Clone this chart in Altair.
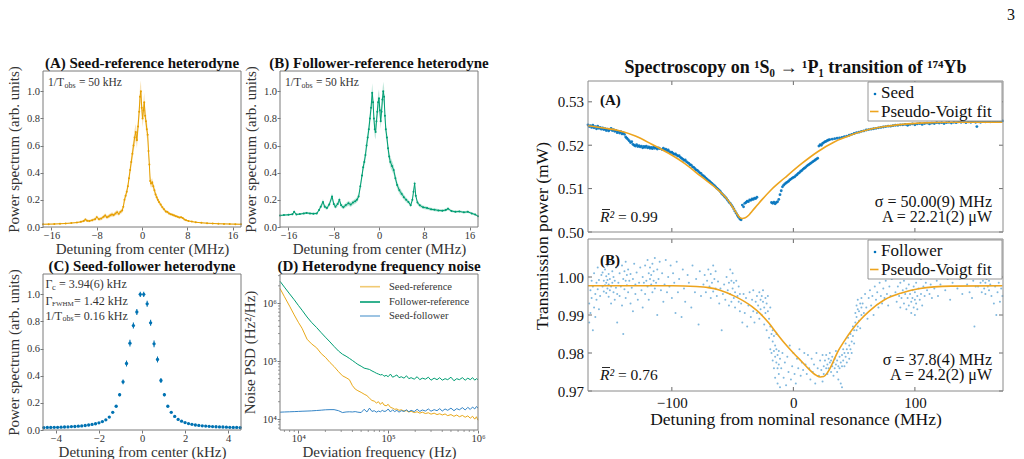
import altair as alt
import pandas as pd

FONT = "Liberation Serif"
ORANGE = "#E69F00"
GREEN = "#009E73"
BLUE = "#0072B2"
MBLUE = "#0072BD"
FIT = "#EDA41E"
DARK = "#333333"
FRAME = "#7a7a7a"

# ---------------- (A) Seed-reference heterodyne ----------------
seedref_x = [-17.5, -16.5, -15.5, -14.5, -13.5, -12.5, -11.5,
             -10.8, -10.3, -10.0, -9.7, -9.3, -8.8, -8.3, -8.0, -7.6, -7.2, -6.8, -6.5, -6.2, -5.9, -5.6, -5.3, -5.0, -4.7, -4.4, -4.1, -3.8, -3.5,
             -3.3, -3.1, -2.9, -2.7, -2.5, -2.3, -2.1, -1.9, -1.7, -1.5, -1.3, -1.1, -0.9, -0.7, -0.5, -0.35, -0.2, -0.05,
             0.1, 0.25, 0.4, 0.55, 0.7, 0.85, 1.0, 1.15, 1.3, 1.45,
             1.6, 1.8, 2.0, 2.2, 2.4, 2.6, 2.8, 3.0,
             3.3, 3.6, 3.9, 4.2, 4.5, 4.8, 5.1, 5.4, 5.7, 6.0, 6.3, 6.6, 6.9, 7.2, 7.5, 7.8,
             8.2, 8.8, 9.5, 10.5, 11.5, 12.5, 13.5, 14.5, 15.5, 16.5, 17.5]
seedref_y = [0.020, 0.021, 0.022, 0.024, 0.026, 0.029, 0.033,
             0.038, 0.045, 0.055, 0.046, 0.044, 0.050, 0.058, 0.072, 0.058, 0.062, 0.075, 0.085, 0.072, 0.078, 0.086, 0.092, 0.088, 0.100, 0.108, 0.098, 0.112, 0.122,
             0.150, 0.200, 0.230, 0.260, 0.300, 0.360, 0.420, 0.480, 0.540, 0.600, 0.660, 0.700, 0.640, 0.740, 0.850, 0.960, 1.000, 0.880,
             0.800, 0.860, 0.920, 0.820, 0.780, 0.720, 0.680, 0.560, 0.460, 0.340,
             0.320, 0.330, 0.300, 0.270, 0.240, 0.220, 0.200, 0.185,
             0.165, 0.145, 0.130, 0.115, 0.110, 0.100, 0.094, 0.090, 0.085, 0.080, 0.076, 0.070, 0.072, 0.066, 0.056, 0.050,
             0.045, 0.040, 0.035, 0.031, 0.028, 0.026, 0.024, 0.023, 0.022, 0.021, 0.020]
seedref_err = [0.004, 0.004, 0.004, 0.004, 0.004, 0.004, 0.004,
               0.008, 0.010, 0.012, 0.010, 0.009, 0.010, 0.012, 0.015, 0.012, 0.012, 0.014, 0.016, 0.013, 0.014, 0.015, 0.016, 0.014, 0.016, 0.017, 0.015, 0.016, 0.018,
               0.020, 0.025, 0.025, 0.028, 0.030, 0.035, 0.040, 0.045, 0.050, 0.055, 0.060, 0.060, 0.060, 0.065, 0.070, 0.075, 0.080, 0.070,
               0.065, 0.070, 0.070, 0.065, 0.060, 0.060, 0.055, 0.050, 0.040, 0.035,
               0.030, 0.030, 0.028, 0.025, 0.022, 0.020, 0.018, 0.016,
               0.015, 0.014, 0.013, 0.012, 0.012, 0.011, 0.010, 0.010, 0.010, 0.009, 0.009, 0.008, 0.009, 0.008, 0.007, 0.006,
               0.005, 0.005, 0.004, 0.004, 0.004, 0.004, 0.004, 0.004, 0.004, 0.004, 0.004]

# ---------------- (B) Follower-reference heterodyne ----------------
folref_x = [-17.5, -16.8, -16.0, -15.3, -15.0, -14.6, -14.0, -13.3, -12.8, -12.2, -11.6, -11.0,
            -10.6, -10.3, -9.9, -9.6, -9.2, -8.8, -8.3, -8.0, -7.7, -7.3, -7.0, -6.7, -6.3, -5.9, -5.4, -5.0, -4.6, -4.2, -3.9, -3.6,
            -3.3, -3.0, -2.8, -2.6, -2.4, -2.2, -2.0, -1.8, -1.6, -1.4, -1.2, -1.05, -0.9, -0.75, -0.6, -0.45, -0.3, -0.15,
            0.0, 0.15, 0.3, 0.45, 0.6, 0.75, 0.9, 1.05, 1.2, 1.4, 1.6, 1.8, 2.0,
            2.3, 2.6, 2.9, 3.2, 3.6, 4.0, 4.4, 4.8, 5.2, 5.6, 5.9, 6.1, 6.3, 6.5, 6.8, 7.2, 7.8,
            8.5, 9.2, 9.8, 10.5, 11.2, 11.8, 12.2, 12.8, 13.5, 14.2, 15.0, 15.7, 16.4, 17.0, 17.5]
folref_y = [0.085, 0.088, 0.090, 0.094, 0.112, 0.093, 0.095, 0.100, 0.104, 0.100, 0.098, 0.100,
            0.125, 0.150, 0.185, 0.150, 0.140, 0.165, 0.225, 0.170, 0.150, 0.170, 0.200, 0.160, 0.145, 0.160, 0.175, 0.165, 0.180, 0.190, 0.200, 0.225,
            0.300, 0.380, 0.440, 0.480, 0.530, 0.600, 0.660, 0.720, 0.800, 0.880, 0.990, 0.920, 0.800, 0.720, 0.700, 0.780, 0.850, 0.920,
            0.950, 0.860, 0.780, 0.850, 0.940, 1.000, 0.960, 0.820, 0.720, 0.660, 0.580, 0.520, 0.480,
            0.450, 0.420, 0.360, 0.310, 0.270, 0.245, 0.220, 0.200, 0.185, 0.160, 0.200, 0.260, 0.320, 0.230, 0.180, 0.160, 0.145,
            0.140, 0.130, 0.128, 0.122, 0.120, 0.125, 0.135, 0.118, 0.112, 0.115, 0.108, 0.112, 0.100, 0.092, 0.080]
folref_err = [0.006, 0.006, 0.006, 0.007, 0.012, 0.007, 0.007, 0.008, 0.008, 0.008, 0.008, 0.008,
              0.012, 0.016, 0.022, 0.016, 0.015, 0.018, 0.025, 0.018, 0.016, 0.018, 0.020, 0.016, 0.015, 0.016, 0.018, 0.017, 0.018, 0.018, 0.020, 0.022,
              0.028, 0.032, 0.035, 0.038, 0.040, 0.045, 0.048, 0.050, 0.055, 0.060, 0.070, 0.065, 0.060, 0.055, 0.055, 0.060, 0.062, 0.065,
              0.065, 0.060, 0.058, 0.060, 0.065, 0.070, 0.068, 0.060, 0.055, 0.050, 0.045, 0.042, 0.040,
              0.038, 0.035, 0.030, 0.028, 0.025, 0.022, 0.020, 0.018, 0.016, 0.015, 0.018, 0.022, 0.028, 0.020, 0.016, 0.014, 0.013,
              0.012, 0.011, 0.011, 0.010, 0.010, 0.011, 0.012, 0.010, 0.009, 0.009, 0.009, 0.009, 0.008, 0.008, 0.007]

# ---------------- (C) Seed-follower heterodyne ----------------
sf_x = [-4.56, -4.40, -4.24, -4.08, -3.92, -3.76, -3.60, -3.44, -3.28, -3.12, -2.96, -2.80, -2.64, -2.48, -2.32,
        -2.16, -2.00, -1.84, -1.68, -1.52, -1.36, -1.20, -1.04, -0.88, -0.72, -0.56, -0.40, -0.24, -0.08,
        0.08, 0.24, 0.40, 0.56, 0.72, 0.88, 1.04, 1.20, 1.36, 1.52, 1.68, 1.84, 2.00, 2.16, 2.32,
        2.48, 2.64, 2.80, 2.96, 3.12, 3.28, 3.44, 3.60, 3.76, 3.92, 4.08, 4.24, 4.40, 4.56]
sf_y = [0.018, 0.019, 0.019, 0.020, 0.020, 0.021, 0.022, 0.023, 0.025, 0.026, 0.028, 0.030, 0.033, 0.037, 0.041,
        0.046, 0.053, 0.062, 0.075, 0.095, 0.130, 0.175, 0.260, 0.355, 0.490, 0.640, 0.770, 0.870, 1.000,
        1.000, 0.930, 0.790, 0.635, 0.520, 0.365, 0.260, 0.175, 0.130, 0.100, 0.078, 0.065, 0.055, 0.047, 0.042,
        0.037, 0.034, 0.031, 0.029, 0.027, 0.025, 0.024, 0.023, 0.022, 0.021, 0.020, 0.019, 0.019, 0.018]
sf_err = [0.003, 0.003, 0.003, 0.003, 0.003, 0.003, 0.003, 0.003, 0.003, 0.003, 0.003, 0.003, 0.003, 0.003, 0.003,
          0.003, 0.003, 0.003, 0.003, 0.003, 0.005, 0.008, 0.012, 0.018, 0.022, 0.025, 0.022, 0.022, 0.020,
          0.020, 0.022, 0.022, 0.025, 0.022, 0.018, 0.012, 0.008, 0.005, 0.003, 0.003, 0.003, 0.003, 0.003, 0.003,
          0.003, 0.003, 0.003, 0.003, 0.003, 0.003, 0.003, 0.003, 0.003, 0.003, 0.003, 0.003, 0.003, 0.003]

# ---------------- (D) Heterodyne frequency noise ----------------
noise_f = [6250, 7000, 8000, 9000, 10000, 11000, 12500, 14000, 16000, 18000,
           20000, 22500, 25000, 28000, 31000, 34000, 37000, 40000, 43000, 46000,
           50000, 54000, 58000, 62000, 66000, 70000, 74000, 78000, 82000, 86000,
           90000, 95000, 100000, 106000, 112000, 118000, 125000, 132000, 140000, 150000,
           160000, 170000, 180000, 195000, 210000, 225000, 240000, 260000, 280000, 300000,
           325000, 350000, 375000, 400000, 430000, 460000, 500000, 540000, 580000, 620000,
           670000, 720000, 770000, 820000, 870000, 920000, 960000, 1000000]
noise_seedref = [1.8e6, 1.3e6, 8.9e5, 6.3e5, 4.7e5, 3.7e5, 2.4e5, 2.0e5, 1.7e5, 1.35e5,
                 1.17e5, 9.5e4, 8.1e4, 6.6e4, 5.6e4, 5.2e4, 4.8e4, 3.8e4, 3.3e4, 3.1e4,
                 2.9e4, 2.7e4, 2.55e4, 2.3e4, 2.1e4, 2.05e4, 1.9e4, 2.0e4, 1.8e4, 1.95e4,
                 1.75e4, 1.7e4, 1.8e4, 1.6e4, 1.55e4, 1.48e4, 1.5e4, 1.42e4, 1.45e4, 1.38e4,
                 1.4e4, 1.33e4, 1.37e4, 1.3e4, 1.34e4, 1.27e4, 1.32e4, 1.25e4, 1.29e4, 1.22e4,
                 1.27e4, 1.2e4, 1.24e4, 1.18e4, 1.23e4, 1.15e4, 1.2e4, 1.12e4, 1.18e4, 1.1e4,
                 1.16e4, 1.08e4, 1.14e4, 1.04e4, 1.12e4, 1.0e4, 1.1e4, 9.6e3]
noise_folref = [2.4e6, 1.9e6, 1.45e6, 1.15e6, 9.2e5, 7.6e5, 5.8e5, 4.7e5, 3.8e5, 3.1e5,
                2.6e5, 2.15e5, 1.8e5, 1.5e5, 1.32e5, 1.22e5, 1.12e5, 1.03e5, 9.5e4, 8.8e4,
                8.2e4, 7.6e4, 7.4e4, 7.2e4, 6.8e4, 6.5e4, 6.2e4, 6.0e4, 5.8e4, 5.9e4,
                5.5e4, 5.7e4, 5.4e4, 6.0e4, 5.3e4, 5.5e4, 5.8e4, 5.2e4, 5.4e4, 5.1e4,
                5.6e4, 5.0e4, 5.2e4, 4.9e4, 5.4e4, 4.8e4, 5.1e4, 4.9e4, 5.3e4, 4.7e4,
                5.1e4, 4.8e4, 5.2e4, 4.7e4, 5.0e4, 4.8e4, 5.3e4, 4.6e4, 5.0e4, 4.8e4,
                5.2e4, 4.7e4, 5.1e4, 4.8e4, 5.2e4, 4.7e4, 5.0e4, 4.8e4]
noise_seedfol = [1.32e4, 1.33e4, 1.34e4, 1.35e4, 1.36e4, 1.37e4, 1.38e4, 1.39e4, 1.41e4, 1.43e4,
                 1.45e4, 1.46e4, 1.46e4, 1.4e4, 1.3e4, 1.33e4, 1.34e4, 1.33e4, 1.35e4, 1.32e4,
                 1.3e4, 1.48e4, 1.33e4, 1.55e4, 1.36e4, 1.4e4, 1.32e4, 1.38e4, 1.34e4, 1.42e4,
                 1.36e4, 1.38e4, 1.5e4, 1.33e4, 1.45e4, 1.35e4, 1.42e4, 1.32e4, 1.4e4, 1.36e4,
                 1.45e4, 1.34e4, 1.42e4, 1.35e4, 1.48e4, 1.36e4, 1.44e4, 1.38e4, 1.5e4, 1.37e4,
                 1.46e4, 1.4e4, 1.52e4, 1.38e4, 1.5e4, 1.42e4, 1.55e4, 1.4e4, 1.52e4, 1.45e4,
                 1.58e4, 1.44e4, 1.6e4, 1.47e4, 1.62e4, 1.5e4, 1.65e4, 1.55e4]
noise_minor_x = [7000, 8000, 9000, 20000, 30000, 40000, 50000, 60000, 70000, 80000, 90000,
                 200000, 300000, 400000, 500000, 600000, 700000, 800000, 900000]
noise_minor_y = [7000, 8000, 9000, 20000, 30000, 40000, 50000, 60000, 70000, 80000, 90000,
                 200000, 300000, 400000, 500000, 600000, 700000, 800000, 900000, 2000000, 3000000]

# ---------------- Spectroscopy (A) Seed ----------------
seed_points = [(-169, 0.5247), (-168, 0.5243), (-167, 0.5245), (-166, 0.5241), (-165, 0.5246), (-164, 0.5240),
    (-163, 0.5243), (-162, 0.5238), (-161, 0.5244), (-160, 0.5239), (-159, 0.5241), (-158, 0.5237), (-157, 0.5240),
    (-156, 0.5236), (-155, 0.5238), (-154, 0.5234), (-153, 0.5237), (-152, 0.5233), (-151, 0.5236), (-150, 0.5239),
    (-149, 0.5234), (-148, 0.5236), (-147, 0.5232), (-146, 0.5234), (-145, 0.5229), (-144, 0.5232), (-143, 0.5228),
    (-142, 0.5231), (-141, 0.5226), (-140, 0.5229), (-139, 0.5225), (-138, 0.5219), (-137, 0.5216), (-136, 0.5213),
    (-135, 0.5210), (-134, 0.5206), (-133, 0.5208), (-132, 0.5202), (-131, 0.5200), (-130, 0.5198), (-129, 0.5201),
    (-128, 0.5197), (-127, 0.5199), (-126, 0.5196), (-125, 0.5198), (-124, 0.5194), (-123, 0.5197), (-122, 0.5195),
    (-121, 0.5198), (-120, 0.5194), (-119, 0.5196), (-118, 0.5193), (-117, 0.5195), (-116, 0.5192), (-115, 0.5196),
    (-114, 0.5193), (-113, 0.5195), (-112, 0.5191), (-111, 0.5194), (-110, 0.5192), (-108, 0.5190), (-107, 0.5193),
    (-106, 0.5189), (-105, 0.5191), (-104, 0.5187), (-103, 0.5189), (-102, 0.5185), (-101, 0.5183), (-100, 0.5184),
    (-99, 0.5181), (-98, 0.5179), (-97, 0.5180), (-96, 0.5177), (-95, 0.5175), (-94, 0.5176), (-93, 0.5172),
    (-92, 0.5170), (-91, 0.5168), (-90, 0.5165), (-89, 0.5166), (-88, 0.5162), (-87, 0.5160), (-86, 0.5158),
    (-85, 0.5155), (-84, 0.5154), (-83, 0.5150), (-82, 0.5149), (-81, 0.5146), (-80, 0.5143), (-79, 0.5142),
    (-78, 0.5139), (-77, 0.5136), (-76, 0.5135), (-75, 0.5131), (-74, 0.5129), (-73, 0.5127), (-72, 0.5124),
    (-71, 0.5122), (-70, 0.5119), (-69, 0.5117), (-68, 0.5114), (-67, 0.5112), (-66, 0.5109), (-65, 0.5107),
    (-64, 0.5104), (-63, 0.5101), (-62, 0.5099), (-61, 0.5096), (-60, 0.5093), (-59, 0.5089), (-58, 0.5086),
    (-57, 0.5083), (-56, 0.5080), (-55, 0.5077), (-54, 0.5073), (-53, 0.5069), (-52, 0.5066), (-51, 0.5062),
    (-50, 0.5058), (-49, 0.5053), (-48, 0.5048), (-47, 0.5043), (-46, 0.5038), (-45, 0.5034), (-44, 0.5030),
    (-43, 0.5028), (-42, 0.5062), (-41, 0.5058), (-40, 0.5066), (-39, 0.5068), (-38, 0.5071), (-37, 0.5070),
    (-36, 0.5074), (-35, 0.5073), (-34, 0.5076), (-33, 0.5075), (-32, 0.5078), (-31, 0.5077), (-30, 0.5080),
    (-18, 0.5068), (-17, 0.5066), (-16, 0.5069), (-15, 0.5065), (-14, 0.5068), (-13, 0.5070), (-12, 0.5075),
    (-11, 0.5086), (-10, 0.5095), (-9, 0.5104), (-8, 0.5108), (-7, 0.5111), (-6, 0.5113), (-5, 0.5115),
    (-4, 0.5117), (-3, 0.5120), (-2, 0.5122), (-1, 0.5124), (0, 0.5126), (1, 0.5127), (2, 0.5130), (3, 0.5132),
    (4, 0.5135), (5, 0.5137), (6, 0.5140), (7, 0.5142), (8, 0.5145), (9, 0.5147), (10, 0.5149), (11, 0.5152),
    (12, 0.5154), (13, 0.5156), (14, 0.5158), (15, 0.5160), (16, 0.5162), (17, 0.5164), (18, 0.5166),
    (19, 0.5168), (20, 0.5170), (21, 0.5198), (22, 0.5201), (23, 0.5200), (24, 0.5204), (25, 0.5206),
    (26, 0.5208), (27, 0.5209), (28, 0.5211), (29, 0.5212), (30, 0.5213), (32, 0.5214), (34, 0.5215),
    (36, 0.5216), (38, 0.5217), (40, 0.5218), (42, 0.5220), (44, 0.5221), (46, 0.5223), (48, 0.5225),
    (50, 0.5227), (52, 0.5229), (54, 0.5230), (56, 0.5232), (58, 0.5233), (60, 0.5235), (62, 0.5236),
    (64, 0.5237), (66, 0.5238), (68, 0.5239), (70, 0.5240), (72, 0.5241), (74, 0.5242), (76, 0.5243),
    (78, 0.5244), (80, 0.5244), (82, 0.5245), (84, 0.5246), (86, 0.5246), (88, 0.5247), (90, 0.5247),
    (92, 0.5248), (94, 0.5246), (96, 0.5248), (98, 0.5249), (100, 0.5247), (102, 0.5249), (104, 0.5250),
    (106, 0.5248), (108, 0.5250), (110, 0.5251), (112, 0.5249), (114, 0.5251), (116, 0.5250), (118, 0.5252),
    (120, 0.5251), (122, 0.5252), (124, 0.5250), (126, 0.5252), (128, 0.5253), (130, 0.5251), (132, 0.5253),
    (134, 0.5252), (136, 0.5254), (138, 0.5253), (140, 0.5254), (142, 0.5252), (144, 0.5254), (146, 0.5253),
    (148, 0.5255), (150, 0.5253), (151, 0.5243), (152, 0.5254), (154, 0.5253), (156, 0.5255), (158, 0.5254),
    (160, 0.5255), (162, 0.5254), (164, 0.5256), (166, 0.5255), (168, 0.5256), (170, 0.5255), (172, 0.5256)]
seed_fit = [(-169, 0.5245), (-155, 0.5239), (-144, 0.5234), (-130, 0.5221), (-117, 0.5203), (-103, 0.5182),
    (-89, 0.5157), (-76, 0.5128), (-62, 0.5097), (-54, 0.5074), (-49, 0.5053), (-46, 0.5040), (-44, 0.5033),
    (-42, 0.5031), (-40, 0.5032), (-37, 0.5038), (-34, 0.5048), (-30, 0.5061), (-26, 0.5074), (-18, 0.5098),
    (-7, 0.5125), (7, 0.5158), (20, 0.5185), (34, 0.5208), (48, 0.5224), (62, 0.5236), (75, 0.5243),
    (90, 0.5248), (103, 0.5251), (130, 0.5253), (172, 0.5253)]

# ---------------- Spectroscopy (B) Follower ----------------
follower_points = [
    (-168, 0.9930), (-168, 0.9880), (-167, 0.9965), (-167, 0.9905), (-166, 0.9990), (-166, 0.9945), (-165, 0.9860),
    (-165, 0.9975), (-164, 0.9920), (-164, 1.0010), (-163, 0.9955), (-163, 0.9895), (-162, 0.9985), (-162, 0.9940),
    (-161, 1.0025), (-161, 0.9968), (-160, 0.9915), (-160, 0.9992), (-159, 0.9950), (-158, 1.0005),
    (-157, 0.9975), (-157, 1.0012), (-156, 0.9962), (-156, 0.9990), (-155, 1.0020), (-155, 0.9978), (-154, 0.9958),
    (-154, 1.0002), (-154, 0.9985), (-153, 0.9970), (-153, 1.0030), (-153, 0.9992), (-152, 0.9948), (-152, 0.9980),
    (-152, 1.0008), (-151, 0.9965), (-151, 0.9995), (-151, 1.0040), (-150, 0.9975), (-150, 0.9930), (-149, 1.0015),
    (-149, 0.9985), (-148, 0.9960), (-148, 1.0000), (-147, 0.9940), (-147, 0.9990), (-146, 1.0025), (-146, 0.9972),
    (-145, 0.9955), (-145, 0.9880),
    (-144, 0.9985), (-143, 1.0010), (-143, 0.9950), (-142, 0.9975), (-141, 1.0030), (-141, 0.9925), (-140, 0.9995),
    (-140, 0.9850), (-139, 1.0015), (-139, 0.9968), (-138, 0.9990), (-138, 1.0040), (-138, 0.9945), (-137, 1.0005),
    (-137, 0.9978), (-136, 0.9960), (-136, 1.0020), (-135, 0.9990), (-134, 0.9930), (-134, 1.0008), (-133, 0.9972),
    (-132, 0.9995), (-132, 0.9910), (-131, 1.0035), (-130, 0.9980), (-130, 0.9955), (-129, 1.0012), (-128, 0.9940),
    (-127, 0.9985), (-126, 1.0025),
    (-125, 0.9965), (-124, 1.0000), (-124, 0.9920), (-123, 0.9985), (-122, 1.0030), (-122, 0.9955), (-121, 0.9990),
    (-120, 1.0045), (-120, 0.9975), (-119, 1.0010), (-119, 0.9940), (-118, 0.9995), (-118, 1.0025), (-117, 0.9980),
    (-117, 1.0005), (-116, 0.9960), (-116, 1.0035), (-115, 0.9990), (-115, 1.0015), (-114, 0.9970), (-114, 1.0050),
    (-113, 0.9985), (-112, 1.0020), (-112, 0.9900), (-111, 0.9995), (-110, 1.0040), (-109, 0.9965), (-108, 1.0010),
    (-107, 0.9935), (-106, 0.9980), (-105, 1.0045), (-104, 0.9960), (-103, 1.0000), (-102, 0.9975), (-101, 1.0030),
    (-100, 0.9945), (-99, 1.0010), (-98, 0.9985), (-97, 0.9905), (-96, 1.0040), (-95, 0.9960), (-94, 0.9995),
    (-92, 0.9895), (-91, 1.0020), (-90, 0.9970), (-89, 0.9935), (-87, 1.0005), (-86, 0.9985), (-84, 0.9920),
    (-83, 1.0030), (-81, 0.9960), (-80, 0.9995), (-78, 0.9875), (-77, 1.0015), (-76, 0.9950),
    (-74, 0.9980), (-73, 1.0005), (-72, 0.9960), (-71, 0.9990), (-70, 1.0020), (-69, 0.9975), (-68, 0.9945),
    (-68, 1.0008), (-67, 0.9985), (-66, 1.0030), (-66, 0.9962), (-65, 0.9995), (-64, 0.9970), (-64, 1.0015),
    (-63, 0.9950), (-62, 0.9988), (-61, 0.9930), (-60, 0.9970), (-59, 0.9860), (-58, 0.9955),
    (-57, 0.9980), (-56, 0.9940), (-55, 1.0000), (-54, 0.9965), (-53, 0.9925), (-53, 0.9985), (-52, 1.0020),
    (-52, 0.9955), (-51, 0.9990), (-51, 0.9935), (-50, 0.9970), (-50, 1.0010), (-49, 0.9945), (-49, 0.9985),
    (-48, 0.9960), (-48, 0.9920), (-47, 0.9990), (-46, 0.9950), (-45, 0.9935), (-45, 0.9975), (-44, 0.9910),
    (-44, 0.9955),
    (-43, 0.9930), (-42, 0.9880), (-41, 0.9955), (-40, 0.9905), (-39, 0.9945), (-38, 0.9870), (-37, 0.9925),
    (-36, 0.9960), (-35, 0.9895), (-34, 0.9940), (-33, 0.9910), (-33, 0.9965), (-32, 0.9880), (-31, 0.9935),
    (-30, 0.9905), (-30, 0.9950), (-29, 0.9925), (-28, 0.9890), (-28, 0.9960), (-27, 0.9940),
    (-27, 0.9915), (-26, 0.9950), (-26, 0.9900), (-25, 0.9935), (-25, 0.9965), (-24, 0.9920), (-24, 0.9875),
    (-23, 0.9945), (-23, 0.9905), (-22, 0.9930), (-22, 0.9860), (-21, 0.9910), (-21, 0.9950), (-20, 0.9890),
    (-20, 0.9840), (-19, 0.9920), (-19, 0.9870), (-19, 0.9810), (-18, 0.9850), (-18, 0.9800),
    (-17, 0.9830), (-17, 0.9780), (-17, 0.9860), (-16, 0.9805), (-16, 0.9760), (-16, 0.9845), (-15, 0.9790),
    (-15, 0.9820), (-15, 0.9735), (-14, 0.9775), (-14, 0.9810), (-14, 0.9850), (-13, 0.9760), (-13, 0.9795),
    (-13, 0.9720), (-12, 0.9770), (-12, 0.9805), (-12, 0.9745), (-11, 0.9785), (-11, 0.9710),
    (-10, 0.9760), (-9, 0.9800), (-8, 0.9735), (-7, 0.9775), (-6, 0.9715), (-5, 0.9790), (-4, 0.9750),
    (-3, 0.9820), (-2, 0.9730), (-1, 0.9765), (0, 0.9800), (1, 0.9745), (2, 0.9720), (3, 0.9785), (4, 0.9760),
    (5, 0.9810), (6, 0.9740), (7, 0.9775), (8, 0.9755), (9, 0.9800),
    (10, 0.9770), (11, 0.9745), (12, 0.9795), (13, 0.9760), (14, 0.9730), (15, 0.9785), (16, 0.9750),
    (17, 0.9770), (18, 0.9720), (19, 0.9800), (20, 0.9760), (21, 0.9740), (22, 0.9780), (23, 0.9755),
    (24, 0.9725), (24, 0.9795), (25, 0.9765), (25, 0.9745),
    (26, 0.9780), (27, 0.9760), (27, 0.9795), (28, 0.9770), (28, 0.9745), (29, 0.9785), (29, 0.9760),
    (30, 0.9775), (30, 0.9800), (31, 0.9750), (31, 0.9780), (32, 0.9765), (32, 0.9790), (33, 0.9775),
    (33, 0.9740), (34, 0.9785), (34, 0.9760), (35, 0.9770), (35, 0.9805), (36, 0.9750), (36, 0.9780),
    (37, 0.9765), (37, 0.9730), (38, 0.9790), (38, 0.9760), (39, 0.9775), (39, 0.9720), (40, 0.9795),
    (40, 0.9765), (40, 0.9710),
    (41, 0.9780), (41, 0.9810), (42, 0.9765), (42, 0.9800), (43, 0.9790), (43, 0.9825), (44, 0.9775),
    (44, 0.9810), (45, 0.9800), (45, 0.9840), (46, 0.9785), (46, 0.9820), (47, 0.9810), (47, 0.9850),
    (48, 0.9830), (48, 0.9800), (49, 0.9845), (49, 0.9870), (50, 0.9825), (50, 0.9860),
    (51, 0.9880), (51, 0.9905), (52, 0.9860), (52, 0.9925), (52, 0.9895), (53, 0.9870), (53, 0.9915),
    (53, 0.9940), (54, 0.9885), (54, 0.9910), (55, 0.9930), (55, 0.9865), (56, 0.9900), (56, 0.9945), (56, 0.9920),
    (57, 0.9930), (58, 0.9905), (59, 0.9955), (60, 0.9920), (61, 0.9890), (62, 0.9945), (63, 0.9965),
    (64, 0.9925), (65, 0.9950), (66, 0.9900), (67, 0.9975), (68, 0.9940), (69, 0.9960), (70, 0.9920),
    (71, 0.9985), (72, 0.9950), (73, 0.9930), (74, 0.9970), (75, 0.9945), (76, 0.9990), (77, 0.9955),
    (78, 0.9925), (79, 0.9975), (80, 0.9950), (81, 0.9995),
    (84, 0.9960), (85, 0.9935), (86, 0.9975), (87, 0.9950), (88, 0.9920), (88, 0.9985), (89, 0.9945),
    (90, 0.9965), (91, 0.9930), (91, 0.9990), (92, 0.9955), (93, 0.9915), (93, 0.9970), (94, 0.9945),
    (95, 0.9925), (95, 0.9980), (96, 0.9955), (97, 0.9935), (97, 0.9905), (98, 0.9965), (98, 0.9945),
    (99, 0.9920), (99, 0.9975), (100, 0.9940), (100, 0.9960), (100, 0.9900), (101, 0.9930), (101, 0.9985),
    (102, 0.9950), (102, 0.9915), (103, 0.9970), (104, 0.9940), (105, 0.9995), (105, 0.9955), (106, 0.9925),
    (107, 0.9975), (108, 0.9950), (109, 0.9985), (110, 0.9965), (111, 1.0000),
    (112, 0.9955), (113, 0.9980), (114, 0.9945), (115, 1.0005), (116, 0.9970), (118, 0.9990), (119, 0.9950),
    (121, 0.9980), (123, 1.0010), (125, 0.9965), (127, 0.9995), (129, 0.9940), (131, 0.9985), (133, 1.0015),
    (135, 0.9970), (137, 0.9995), (139, 0.9955), (141, 1.0020), (143, 0.9980), (145, 0.9960), (146, 1.0005),
    (147, 0.9945), (148, 0.9990), (149, 0.9870), (150, 0.9975),
    (151, 1.0000), (152, 0.9975), (153, 1.0025), (154, 0.9985), (155, 0.9960), (155, 1.0010), (156, 0.9990),
    (156, 1.0035), (157, 0.9970), (157, 1.0005), (158, 0.9985), (158, 0.9955), (159, 1.0020), (159, 0.9995),
    (160, 0.9975), (160, 1.0040), (161, 0.9990), (161, 0.9965), (162, 1.0010), (162, 0.9980), (163, 0.9950),
    (164, 1.0000), (165, 0.9930), (166, 0.9975), (167, 0.9900), (168, 0.9960), (169, 0.9985), (170, 0.9935),
    (171, 0.9970), (172, 0.9950)]
follower_fit = [(-169, 0.9977), (-100, 0.9977), (-80, 0.9975), (-70, 0.9972), (-61, 0.9966), (-48, 0.9949),
    (-34, 0.9922), (-27, 0.9903), (-20, 0.9878), (-14, 0.9853), (-7, 0.9825), (0, 0.9800), (7, 0.9777),
    (12, 0.9760), (16, 0.9748), (19, 0.9741), (22, 0.9737), (25, 0.9738), (28, 0.9748), (31, 0.9765),
    (34, 0.9786), (37, 0.9806), (42, 0.9832), (48, 0.9860), (55, 0.9887), (62, 0.9909), (75, 0.9940),
    (89, 0.9958), (103, 0.9969), (130, 0.9976), (172, 0.9977)]

spec_xticks = [-100, 0, 100]
specA_yticks = [0.50, 0.51, 0.52, 0.53]
specB_yticks = [0.97, 0.98, 0.99, 1.00]

# ======================================================================
# One canvas; each panel gets its own pixel box through the scale ranges.
W, H = 975, 388
one = pd.DataFrame({"k": [0]})


def txt(s, x, y, size=11.5, align="left", weight="normal", style="normal", color=DARK, angle=0, baseline="middle"):
    return alt.Chart(one).mark_text(text=s, font=FONT, fontSize=size, align=align, baseline=baseline,
                                    fontWeight=weight, fontStyle=style, color=color, angle=angle
                                    ).encode(x=alt.value(x), y=alt.value(y))


def hbar(x1, x2, y, color="#111", width=1.0):
    return alt.Chart(one).mark_rule(color=color, strokeWidth=width).encode(
        x=alt.value(x1), x2=alt.value(x2), y=alt.value(y))


def frame(x0, y0, w, h, color=FRAME):
    return alt.Chart(one).mark_rect(fillOpacity=0, stroke=color, strokeWidth=1).encode(
        x=alt.value(x0), x2=alt.value(x0 + w), y=alt.value(y0), y2=alt.value(y0 + h))


def laxis(title, values, orient, offset, fmt=None, expr=None, title_pad=2):
    kw = dict(title=title, values=values, orient=orient, offset=offset, labelFont=FONT, labelFontSize=10.5,
              labelColor=DARK, tickColor="#555", tickSize=3, tickWidth=0.8, domain=False, grid=False,
              titleFont=FONT, titleFontSize=15, titleFontWeight="normal", titleColor=DARK,
              labelPadding=0.5, titlePadding=title_pad, labelFlush=False, labelOverlap=False)
    if fmt:
        kw["format"] = fmt
    if expr:
        kw["labelExpr"] = expr
    return alt.Axis(**kw)


def raxis(values, orient, offset, fmt=None, title=None):
    kw = dict(values=values, orient=orient, offset=offset, labelFont=FONT, labelFontSize=15, labelColor="#111",
              ticks=False, tickSize=0, domain=False, grid=False, labelPadding=4.5, labelFlush=False,
              labelOverlap=False, titleFont=FONT, titleFontSize=17.5, titleFontWeight="normal",
              titleColor="#111", titlePadding=0)
    kw["title"] = title
    if fmt:
        kw["format"] = fmt
    return alt.Axis(**kw)


LW, LH = 198, 156
XPAD = 0
YPAD = 5


def ptitle(s, x0, y0):
    return txt(s, x0 + LW / 2, y0 - 8.5, 15, align="center", weight="bold", color="#111")


def spectrum_panel(xs, ys, errs, color, band_color, title, x0, y0):
    df = pd.DataFrame({"x": xs, "y": ys,
                       "lo": [a - b for a, b in zip(ys, errs)],
                       "hi": [a + b for a, b in zip(ys, errs)]})
    xsc = alt.Scale(domain=[-17.5, 17.5], range=[x0, x0 + LW], nice=False, zero=False)
    ysc = alt.Scale(domain=[0, 1.15], range=[y0 + LH, y0], nice=False, zero=False)
    xa = laxis("Detuning from center (MHz)", [-16, -8, 0, 8, 16], "bottom", y0 + LH - H, title_pad=XPAD)
    ya = laxis("Power spectrum (arb. units)", [0, 0.2, 0.4, 0.6, 0.8, 1.0], "left", -x0, fmt=".1f", title_pad=YPAD)
    X = alt.X("x:Q", scale=xsc, axis=xa)
    band = alt.Chart(df).mark_area(color=band_color, opacity=0.6).encode(
        x=X, y=alt.Y("lo:Q", scale=ysc, axis=ya), y2="hi:Q")
    line = alt.Chart(df).mark_line(color=color, strokeWidth=1.0).encode(
        x=X, y=alt.Y("y:Q", scale=ysc, axis=ya))
    dots = alt.Chart(df).mark_circle(color=color, size=4, opacity=1).encode(
        x=X, y=alt.Y("y:Q", scale=ysc, axis=ya))
    notes = [txt("1/T", x0 + 5, y0 + 11.5, 11.5), txt("obs", x0 + 21.5, y0 + 14.5, 8),
             txt("= 50 kHz", x0 + 36, y0 + 11.5, 11.5)]
    return alt.layer(band, line, dots, frame(x0, y0, LW, LH), ptitle(title, x0, y0), *notes)


pA = spectrum_panel(seedref_x, seedref_y, seedref_err, ORANGE, "#F3CF86", "(A) Seed-reference heterodyne", 0, 0)
pB = spectrum_panel(folref_x, folref_y, folref_err, GREEN, "#93D6BF", "(B) Follower-reference heterodyne", 237, 0)

# ---- C ----
cx0, cy0 = 0, 203
dfC = pd.DataFrame({"x": sf_x, "y": sf_y,
                    "lo": [a - b for a, b in zip(sf_y, sf_err)],
                    "hi": [a + b for a, b in zip(sf_y, sf_err)]})
xscC = alt.Scale(domain=[-4.6, 4.6], range=[cx0, cx0 + LW], nice=False, zero=False)
yscC = alt.Scale(domain=[0, 1.15], range=[cy0 + LH, cy0], nice=False, zero=False)
xaC = laxis("Detuning from center (kHz)", [-4, -2, 0, 2, 4], "bottom", cy0 + LH - H, title_pad=XPAD)
yaC = laxis("Power spectrum (arb. units)", [0, 0.2, 0.4, 0.6, 0.8, 1.0], "left", -cx0, fmt=".1f", title_pad=YPAD)
XC = alt.X("x:Q", scale=xscC, axis=xaC)
errC = alt.Chart(dfC).mark_rule(color=BLUE, strokeWidth=1.1).encode(x=XC, y=alt.Y("lo:Q", scale=yscC, axis=yaC), y2="hi:Q")
ptsC = alt.Chart(dfC).mark_circle(color=BLUE, size=11, opacity=1).encode(x=XC, y=alt.Y("y:Q", scale=yscC, axis=yaC))
notesC = [txt("Γ", cx0 + 2.5, cy0 + 10, 12), txt("c", cx0 + 9, cy0 + 13, 8.5), txt("= 3.94(6) kHz", cx0 + 16, cy0 + 10, 12),
          txt("Γ", cx0 + 2.5, cy0 + 26.5, 12), txt("FWHM", cx0 + 9, cy0 + 29.5, 7), txt("= 1.42 kHz", cx0 + 31, cy0 + 26.5, 12),
          txt("1/T", cx0 + 2.5, cy0 + 41.7, 12), txt("obs", cx0 + 19.5, cy0 + 44.5, 8), txt("= 0.16 kHz", cx0 + 31, cy0 + 41.7, 12)]
pC = alt.layer(errC, ptsC, frame(cx0, cy0, LW, LH), ptitle("(C) Seed-follower heterodyne", cx0, cy0), *notesC)

# ---- D ----
dx0, dy0 = 237, 203
POW = "datum.value >= 1e6 ? '10⁶' : (datum.value >= 1e5 ? '10⁵' : '10⁴')"
xscD = alt.Scale(type="log", domain=[6250, 1000000], range=[dx0, dx0 + LW], nice=False)
yscD = alt.Scale(type="log", domain=[6500, 3200000], range=[dy0 + LH, dy0], nice=False)
xaD = laxis("Deviation frequency (Hz)", [10000, 100000, 1000000], "bottom", dy0 + LH - H, expr=POW, title_pad=XPAD)
yaD = laxis("Noise PSD (Hz²/Hz)", [10000, 100000, 1000000], "left", -dx0, expr=POW, title_pad=YPAD)


def XD(f):
    return alt.X(f"{f}:Q", scale=xscD, axis=xaD)


def YD(f):
    return alt.Y(f"{f}:Q", scale=yscD, axis=yaD)


dfD = pd.DataFrame({"f": noise_f, "sr": noise_seedref, "fr": noise_folref, "sf": noise_seedfol})
lineSR = alt.Chart(dfD).mark_line(color=ORANGE, strokeWidth=1.0, opacity=0.9).encode(x=XD("f"), y=YD("sr"))
lineFR = alt.Chart(dfD).mark_line(color=GREEN, strokeWidth=1.0).encode(x=XD("f"), y=YD("fr"))
lineSF = alt.Chart(dfD).mark_line(color="#1F78C0", strokeWidth=1.0, opacity=0.9).encode(x=XD("f"), y=YD("sf"))
minx = alt.Chart(pd.DataFrame({"v": noise_minor_x})).mark_rule(color="#555", strokeWidth=0.6).encode(
    x=XD("v"), y=alt.value(dy0 + LH), y2=alt.value(dy0 + LH + 2))
miny = alt.Chart(pd.DataFrame({"v": noise_minor_y})).mark_rule(color="#555", strokeWidth=0.6).encode(
    y=YD("v"), x=alt.value(dx0 - 2), x2=alt.value(dx0))


def leg_seg(color, y, op):
    return alt.Chart(one).mark_rule(color=color, strokeWidth=1.6, opacity=op).encode(
        x=alt.value(dx0 + 80), x2=alt.value(dx0 + 100), y=alt.value(dy0 + y))


legD = [leg_seg(ORANGE, 12.7, 0.55), leg_seg(GREEN, 28, 1.0), leg_seg("#1F78C0", 42, 0.55),
        txt("Seed-reference", dx0 + 109, dy0 + 12.7, 10.5), txt("Follower-reference", dx0 + 109, dy0 + 28, 10.5),
        txt("Seed-follower", dx0 + 109, dy0 + 42, 10.5)]
pD = alt.layer(lineSR, lineFR, lineSF, minx, miny, frame(dx0, dy0, LW, LH),
               ptitle("(D) Heterodyne frequency noise", dx0, dy0), *legD)

# ---- Right panels ----
RX0, RW = 545, 415
RAY0, RHA = 10, 151
RBY0, RHB = 168, 152
RFRAME = "#8a8a8a"


def inner_ticks(xfn, y0, h):
    dx = pd.DataFrame({"v": spec_xticks})
    c = "#444"
    return [
        alt.Chart(dx).mark_rule(color=c, strokeWidth=0.8).encode(x=xfn("v"), y=alt.value(y0), y2=alt.value(y0 + 4)),
        alt.Chart(dx).mark_rule(color=c, strokeWidth=0.8).encode(x=xfn("v"), y=alt.value(y0 + h - 4), y2=alt.value(y0 + h)),
    ]


def inner_yticks(yfn, yvals):
    dy = pd.DataFrame({"v": yvals})
    c = "#444"
    return [
        alt.Chart(dy).mark_rule(color=c, strokeWidth=0.8).encode(y=yfn("v"), x=alt.value(RX0), x2=alt.value(RX0 + 4)),
        alt.Chart(dy).mark_rule(color=c, strokeWidth=0.8).encode(y=yfn("v"), x=alt.value(RX0 + RW - 4), x2=alt.value(RX0 + RW)),
    ]


def legend_box(label, y0):
    return [
        alt.Chart(one).mark_rect(fill="white", stroke=RFRAME, strokeWidth=0.9).encode(
            x=alt.value(RX0 + 280), x2=alt.value(RX0 + 414), y=alt.value(y0 + 1), y2=alt.value(y0 + 40)),
        alt.Chart(one).mark_circle(color=MBLUE, size=7, opacity=1).encode(x=alt.value(RX0 + 287), y=alt.value(y0 + 13)),
        alt.Chart(one).mark_rule(color=FIT, strokeWidth=1.6).encode(
            x=alt.value(RX0 + 282), x2=alt.value(RX0 + 290.5), y=alt.value(y0 + 30.5)),
        txt(label, RX0 + 293, y0 + 12, 17, color="#111"),
        txt("Pseudo-Voigt fit", RX0 + 293, y0 + 30.5, 17, color="#111"),
    ]


def r2_note(value, y0):
    return [
        txt("R²", RX0 + 12, y0 + 136, 15.5, style="italic", color="#111"),
        hbar(RX0 + 14, RX0 + 22, y0 + 128.5, width=0.9),
        txt(value, RX0 + 30, y0 + 136, 15.5, color="#111"),
    ]


# (A) seed
xscRA = alt.Scale(domain=[-169, 172.5], range=[RX0, RX0 + RW], nice=False, zero=False)
yscRA = alt.Scale(domain=[0.5, 0.5348], range=[RAY0 + RHA, RAY0], nice=False, zero=False)
yaRA = raxis(specA_yticks, "left", -RX0, fmt=".2f")


def XRA(f):
    return alt.X(f"{f}:Q", scale=xscRA, axis=None)


def YRA(f):
    return alt.Y(f"{f}:Q", scale=yscRA, axis=yaRA)


dfSeed = pd.DataFrame(seed_points, columns=["x", "y"])
dfSeedFit = pd.DataFrame(seed_fit, columns=["x", "y"])
seedPts = alt.Chart(dfSeed).mark_circle(color=MBLUE, size=8, opacity=0.9).encode(x=XRA("x"), y=YRA("y"))
seedFit = alt.Chart(dfSeedFit).mark_line(color=FIT, strokeWidth=1.6, interpolate="monotone").encode(x=XRA("x"), y=YRA("y"))
notesRA = [
    txt("(A)", RX0 + 12, RAY0 + 19, 15, weight="bold", color="#111"),
    *r2_note("= 0.99", RAY0),
    txt("σ = 50.00(9) MHz", RX0 + 404, RAY0 + 121, 16, align="right", color="#111"),
    txt("A = 22.21(2) μW", RX0 + 404, RAY0 + 136, 16, align="right", color="#111"),
]
pRA = alt.layer(seedPts, seedFit, *inner_ticks(XRA, RAY0, RHA), *inner_yticks(YRA, specA_yticks),
                frame(RX0, RAY0, RW, RHA, RFRAME), *notesRA, *legend_box("Seed", RAY0))

# (B) follower
xscRB = alt.Scale(domain=[-169, 172.5], range=[RX0, RX0 + RW], nice=False, zero=False)
yscRB = alt.Scale(domain=[0.97, 1.01], range=[RBY0 + RHB, RBY0], nice=False, zero=False)
yaRB = raxis(specB_yticks, "left", -RX0, fmt=".2f")
xaRB = raxis(spec_xticks, "bottom", RBY0 + RHB - H, title="Detuning from nominal resonance (MHz)")


def XRB(f):
    return alt.X(f"{f}:Q", scale=xscRB, axis=xaRB)


def YRB(f):
    return alt.Y(f"{f}:Q", scale=yscRB, axis=yaRB)


dfFol = pd.DataFrame(follower_points, columns=["x", "y"])
dfFolFit = pd.DataFrame(follower_fit, columns=["x", "y"])
folPts = alt.Chart(dfFol).mark_circle(color=MBLUE, size=4, opacity=0.5).encode(x=XRB("x"), y=YRB("y"))
folFit = alt.Chart(dfFolFit).mark_line(color=FIT, strokeWidth=1.6, interpolate="monotone").encode(x=XRB("x"), y=YRB("y"))
notesRB = [
    txt("(B)", RX0 + 12, RBY0 + 20.5, 15, weight="bold", color="#111"),
    *r2_note("= 0.76", RBY0),
    txt("σ = 37.8(4) MHz", RX0 + 404, RBY0 + 121, 16, align="right", color="#111"),
    txt("A = 24.2(2) μW", RX0 + 404, RBY0 + 136, 16, align="right", color="#111"),
]
pRB = alt.layer(folPts, folFit, *inner_ticks(XRB, RBY0, RHB), *inner_yticks(YRB, specB_yticks),
                frame(RX0, RBY0, RW, RHB, RFRAME), *notesRB, *legend_box("Follower", RBY0))

extras = alt.layer(
    txt("Spectroscopy on ¹S₀ → ¹P₁ transition of ¹⁷⁴Yb", RX0 + RW / 2, RAY0 - 13, 18, align="center",
        weight="bold", color="#111"),
    txt("Transmission power (mW)", RX0 - 45, (RAY0 + RBY0 + RHB) / 2, 17.5, align="center", angle=270, color="#111"),
    txt("3", 968, -56, 16, align="center", color="#111"),
)

chart = alt.layer(pA, pB, pC, pD, pRA, pRB, extras).resolve_scale(
    x="independent", y="independent").resolve_axis(x="independent", y="independent").properties(
    width=W, height=H,
    autosize=alt.AutoSizeParams(type="none"),
    padding={"left": 43, "top": 71, "right": 6, "bottom": 0},
    background="white",
    view=alt.ViewBackground(stroke="transparent"),
).configure(font=FONT)

chart.save("out.html", embed_options={"renderer": "svg", "actions": False})
